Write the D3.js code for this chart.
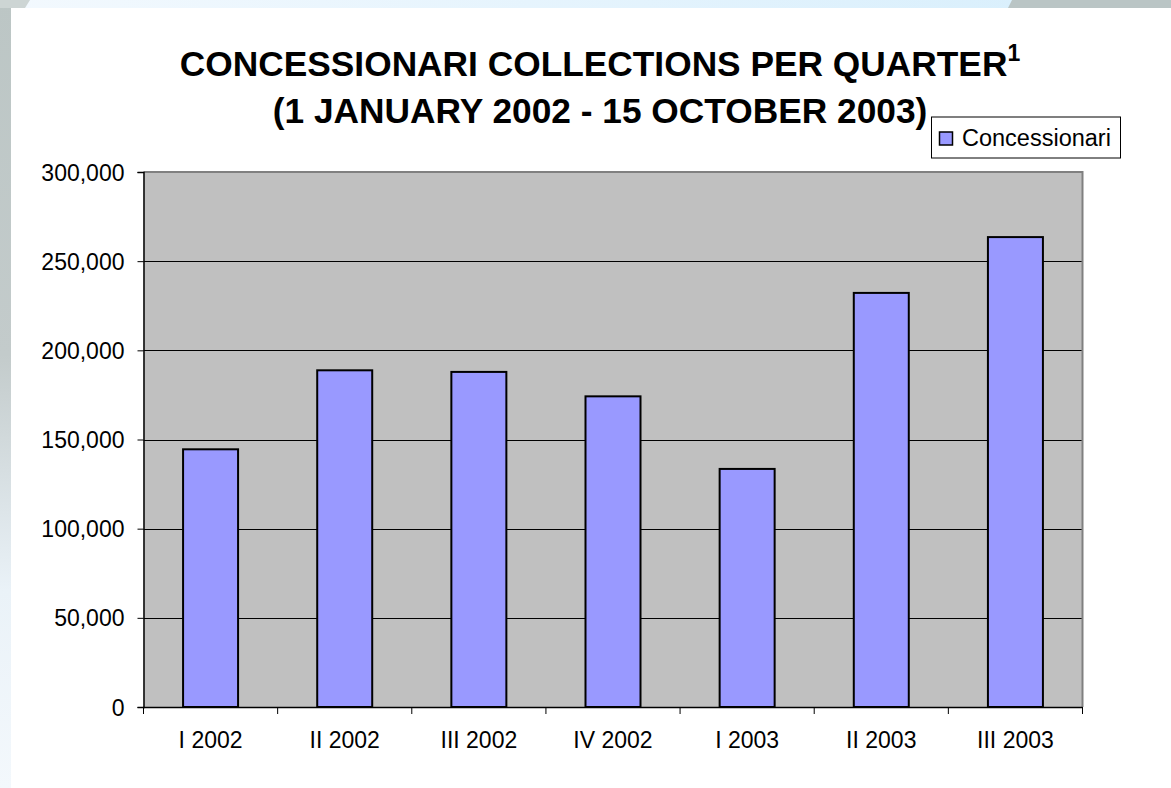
<!DOCTYPE html>
<html><head><meta charset="utf-8">
<script src="https://cdn.jsdelivr.net/npm/d3@7"></script>
<style>html,body{margin:0;padding:0;background:#e6f3fc;}svg{display:block;}</style>
</head><body>
<svg id="c" width="1171" height="788"></svg>
<script>
const categories = ["I 2002","II 2002","III 2002","IV 2002","I 2003","II 2003","III 2003"];
const seriesName = "Concessionari";
const values = [144500, 188800, 187900, 174200, 133500, 232200, 263500];
const yTicks = [0, 50000, 100000, 150000, 200000, 250000, 300000];
const titleLine1 = "CONCESSIONARI COLLECTIONS PER QUARTER";
const titleSup = "1";
const titleLine2 = "(1 JANUARY 2002 - 15 OCTOBER 2003)";

const svg = d3.select("#c");
const W = 1171, H = 788;
const font = "'Liberation Sans', Arial, sans-serif";

// background decoration
const defs = svg.append("defs");
const gTop = defs.append("linearGradient").attr("id","gt").attr("x1","0").attr("x2","1");
gTop.append("stop").attr("offset","0").attr("stop-color","#f3f9fe");
gTop.append("stop").attr("offset","1").attr("stop-color","#d6eefc");
const gLeft = defs.append("linearGradient").attr("id","gl").attr("x1","0").attr("x2","0").attr("y1","0").attr("y2","1");
gLeft.append("stop").attr("offset","0").attr("stop-color","#bcc6c5");
gLeft.append("stop").attr("offset","0.45").attr("stop-color","#c3cbcb");
gLeft.append("stop").attr("offset","0.75").attr("stop-color","#eaf2f8");
gLeft.append("stop").attr("offset","1").attr("stop-color","#f3f8fc");
svg.append("rect").attr("x",0).attr("y",0).attr("width",W).attr("height",H).attr("fill","url(#gt)");
svg.append("rect").attr("x",0).attr("y",0).attr("width",11).attr("height",H).attr("fill","url(#gl)");
svg.append("polygon").attr("points","1012,0 1171,0 1171,8 1008,8").attr("fill","#bac5c5");
svg.append("polygon").attr("points","0,0 30,0 25,8 0,8").attr("fill","#cdd5d4");
svg.append("rect").attr("x",11).attr("y",8).attr("width",W-11).attr("height",H-8).attr("fill","#ffffff");

// plot area
const x0 = 143.5, x1 = 1082.5, yTop = 172, yBot = 707;
const x = d3.scaleBand().domain(categories).range([x0, x1]).paddingInner(0.59).paddingOuter(0.295);
const xb = d3.scaleBand().domain(categories).range([x0, x1]).padding(0);
const y = d3.scaleLinear().domain([0, 300000]).range([yBot, yTop]);

svg.append("rect").attr("x",x0).attr("y",yTop).attr("width",x1-x0).attr("height",yBot-yTop).attr("fill","#c0c0c0");

// gridlines
svg.append("g").selectAll("line").data(yTicks.filter(d=>d>0 && d<300000)).join("line")
  .attr("x1",x0).attr("x2",x1).attr("y1",d=>Math.round(y(d))+0.5).attr("y2",d=>Math.round(y(d))+0.5)
  .attr("stroke","#000").attr("stroke-width",1);

// plot border top/right grey
svg.append("path").attr("d",`M${x0},${yTop} L${x1},${yTop} L${x1},${yBot}`).attr("fill","none").attr("stroke","#808080").attr("stroke-width",2);

// bars
svg.append("g").selectAll("rect").data(values).join("rect")
  .attr("x",(d,i)=>x(categories[i]))
  .attr("y",d=>y(d))
  .attr("width",x.bandwidth())
  .attr("height",d=>yBot-y(d))
  .attr("fill","#9999ff").attr("stroke","#000").attr("stroke-width",2);

// y axis
const yAxis = d3.axisLeft(y).tickValues(yTicks).tickSize(6).tickPadding(13).tickFormat(d3.format(","));
const gy = svg.append("g").attr("transform",`translate(${x0},0)`).call(yAxis);
gy.select(".domain").attr("stroke","#000").attr("stroke-width",1.5);
gy.selectAll(".tick line").attr("stroke","#000");
gy.selectAll("text").attr("font-family",font).attr("font-size","23px").attr("fill","#000").attr("dy","0.35em");

// x axis
const gx = svg.append("g").attr("transform",`translate(0,${yBot})`).call(d3.axisBottom(xb).tickSize(0).tickPadding(0));
gx.select(".domain").remove();
gx.append("line").attr("x1",x0).attr("x2",x1).attr("y1",0.5).attr("y2",0.5).attr("stroke","#000").attr("stroke-width",1.5);
gx.selectAll(".tick text").attr("font-family",font).attr("font-size","23px").attr("fill","#000").attr("y",41).attr("dy",0);
const bounds = categories.map(c=>xb(c)).concat([x1]);
gx.append("g").selectAll("line").data(bounds).join("line")
  .attr("x1",d=>d).attr("x2",d=>d).attr("y1",0).attr("y2",7).attr("stroke","#000").attr("stroke-width",1);

// title
const t1 = svg.append("text").attr("x",600).attr("y",76).attr("text-anchor","middle")
  .attr("font-family",font).attr("font-weight","bold").attr("font-size","35.3px").attr("fill","#000");
t1.append("tspan").text(titleLine1);
t1.append("tspan").attr("font-size","23px").attr("dy",-15).text(titleSup);
svg.append("text").attr("x",600).attr("y",123).attr("text-anchor","middle")
  .attr("font-family",font).attr("font-weight","bold").attr("font-size","35.3px").attr("fill","#000").text(titleLine2);

// legend
const lg = svg.append("g");
lg.append("rect").attr("x",931.5).attr("y",117).attr("width",189).attr("height",41).attr("fill","#fff").attr("stroke","#000").attr("stroke-width",1);
lg.append("rect").attr("x",939.5).attr("y",132).attr("width",13).attr("height",13).attr("fill","#9999ff").attr("stroke","#000").attr("stroke-width",1.5);
lg.append("text").attr("x",962).attr("y",145.5).attr("font-family",font).attr("font-size","23.5px").attr("fill","#000").text(seriesName);
</script>
</body></html>
